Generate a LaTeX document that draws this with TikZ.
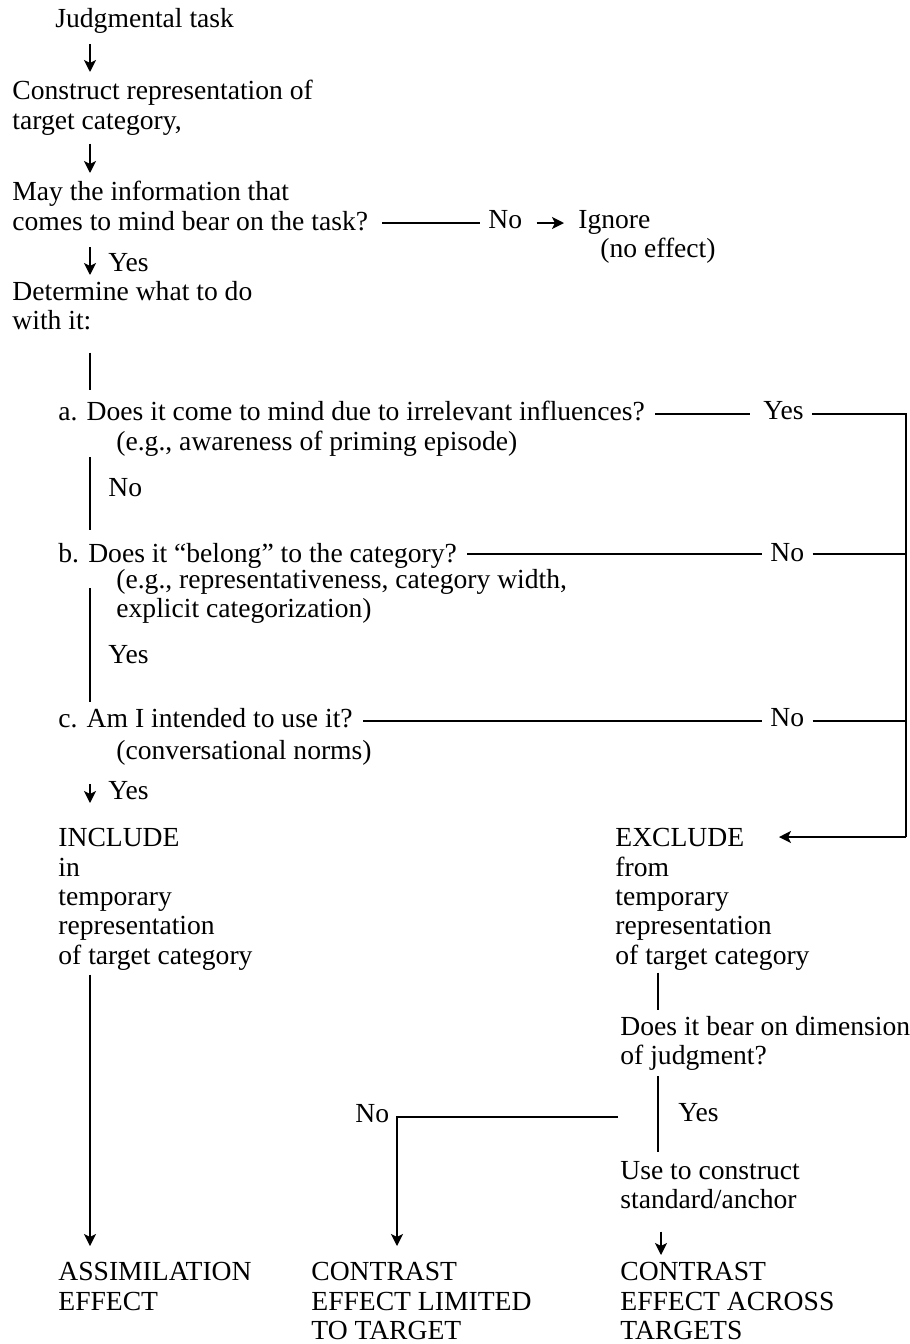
\documentclass[tikz,border=0pt]{standalone}
\usepackage{fontspec}
\setmainfont{Liberation Serif}
\usetikzlibrary{arrows.meta}
\begin{document}
\begin{tikzpicture}[x=0.5pt,y=-0.5pt,
  txt/.style={inner sep=0pt, align=left, font=\fontsize{13.8pt}{14.7pt}\selectfont},
  tl/.style={txt, anchor=north west},
  ln/.style={line width=0.9pt},
  arr/.style={ln, -{Stealth[length=6pt,width=6pt,inset=1.5pt]}},
]
\useasboundingbox (0,0) rectangle (910,1344);
% trunk coordinates
\coordinate (tx) at (90,0);
\coordinate (ex) at (658,0);
\coordinate (nx) at (397,0);
\coordinate (ux) at (661,0);
\coordinate (rx) at (906,0);
% top section
\node[tl] (J) at (55,8) {Judgmental task};
\node[tl] (C) at (12,80) {Construct representation of\\target category,};
\node[tl] (M) at (12,181) {May the information that\\comes to mind bear on the task?};
\node[tl] (No1) at (488,210) {No};
\node[tl] (Ign) at (578,210) {Ignore};
\node[tl] (noeff) at (600,238) {(no effect)};
\node[tl] (Y1) at (108,253) {Yes};
\node[tl] (D) at (12,281) {Determine what to do\\with it:};
% questions
\node[tl] (Qa) at (58,401) {a. Does it come to mind due to irrelevant influences?};
\node[tl] (Ea) at (116,431) {(e.g., awareness of priming episode)};
\node[tl] (Na) at (108,478) {No};
\node[tl] (Qb) at (58,543) {b. Does it “belong” to the category?};
\node[tl] (Eb) at (116,569) {(e.g., representativeness, category width,\\explicit categorization)};
\node[tl] (Yb) at (108,645) {Yes};
\node[tl] (Qc) at (58,708) {c. Am I intended to use it?};
\node[tl] (Ec) at (116,740) {(conversational norms)};
\node[tl] (Yc) at (108,781) {Yes};
\node[tl] (YesA) at (763,401) {Yes};
\node[tl] (NoB) at (770,543) {No};
\node[tl] (NoC) at (770,708) {No};
% include / exclude
\node[tl] (Inc) at (58,828) {INCLUDE\\in\\temporary\\representation\\of target category};
\node[tl] (Exc) at (615,828) {EXCLUDE\\from\\temporary\\representation\\of target category};
\node[tl] (Bear) at (620,1016) {Does it bear on dimension\\of judgment?};
\node[tl] (Yd) at (678,1103) {Yes};
\node[tl] (Nd) at (355,1104) {No};
\node[tl] (Use) at (620,1161) {Use to construct\\standard/anchor};
% outcomes
\node[tl] (Ass) at (58,1262) {ASSIMILATION\\EFFECT};
\node[tl] (CL) at (311,1262) {CONTRAST\\EFFECT LIMITED\\TO TARGET};
\node[tl] (CA) at (620,1262) {CONTRAST\\EFFECT ACROSS\\TARGETS};
% main trunk
\draw[arr, shorten <=5pt, shorten >=4pt] (J.south -| tx) -- (C.north -| tx);
\draw[arr, shorten <=4pt, shorten >=4pt] (C.south -| tx) -- (M.north -| tx);
\draw[arr, shorten <=8pt, shorten >=3pt] (M.south -| tx) -- (D.north -| tx);
\draw[ln, shorten <=11pt, shorten >=5.5pt] (D.south -| tx) -- (Qa.north -| tx);
\draw[ln, shorten >=6.5pt] (Ea.south -| tx) -- (Qb.north -| tx);
\draw[ln, shorten <=9.5pt, shorten >=3pt] (Eb.north -| tx) -- (Qc.north -| tx);
\draw[arr, shorten <=9pt, shorten >=12.5pt] (Ec.south -| tx) -- (Inc.north -| tx);
\draw[arr, shorten <=2pt, shorten >=8pt] (Inc.south -| tx) -- (Ass.north -| tx);
% ignore branch
\draw[ln, shorten <=7pt, shorten >=4pt] (M.east |- 0,223) -- (No1.west |- 0,223);
\draw[arr, shorten <=7pt, shorten >=7pt] (No1.east |- 0,223) -- (Ign.west |- 0,223);
% right-hand branches
\draw[ln, shorten <=5pt, shorten >=6.5pt] (Qa.east |- 0,414) -- (YesA.west |- 0,414);
\draw[ln, shorten <=4pt] (YesA.east |- 0,414) -- (rx |- 0,414) -- (rx |- 0,837);
\draw[arr, shorten >=82pt] (rx |- 0,837) -- (Exc.west |- 0,837);
\draw[ln, shorten <=5pt, shorten >=4pt] (Qb.east |- 0,554) -- (NoB.west |- 0,554);
\draw[ln, shorten <=4pt] (NoB.east |- 0,554) -- (rx |- 0,554);
\draw[ln, shorten <=5pt, shorten >=4pt] (Qc.east |- 0,721) -- (NoC.west |- 0,721);
\draw[ln, shorten <=4pt] (NoC.east |- 0,721) -- (rx |- 0,721);
% exclude branch
\draw[ln, shorten <=1pt, shorten >=3pt] (Exc.south -| ex) -- (Bear.north -| ex);
\draw[ln, shorten <=2.5pt, shorten >=4.5pt] (Bear.south -| ex) -- (Use.north -| ex);
\coordinate (brR) at (618,1117);
\draw[arr, shorten >=8pt] (brR) -- (brR -| nx) -- (CL.north -| nx);
\draw[arr, shorten <=11pt, shorten >=3.5pt] (Use.south -| ux) -- (CA.north -| ux);
\end{tikzpicture}
\end{document}
